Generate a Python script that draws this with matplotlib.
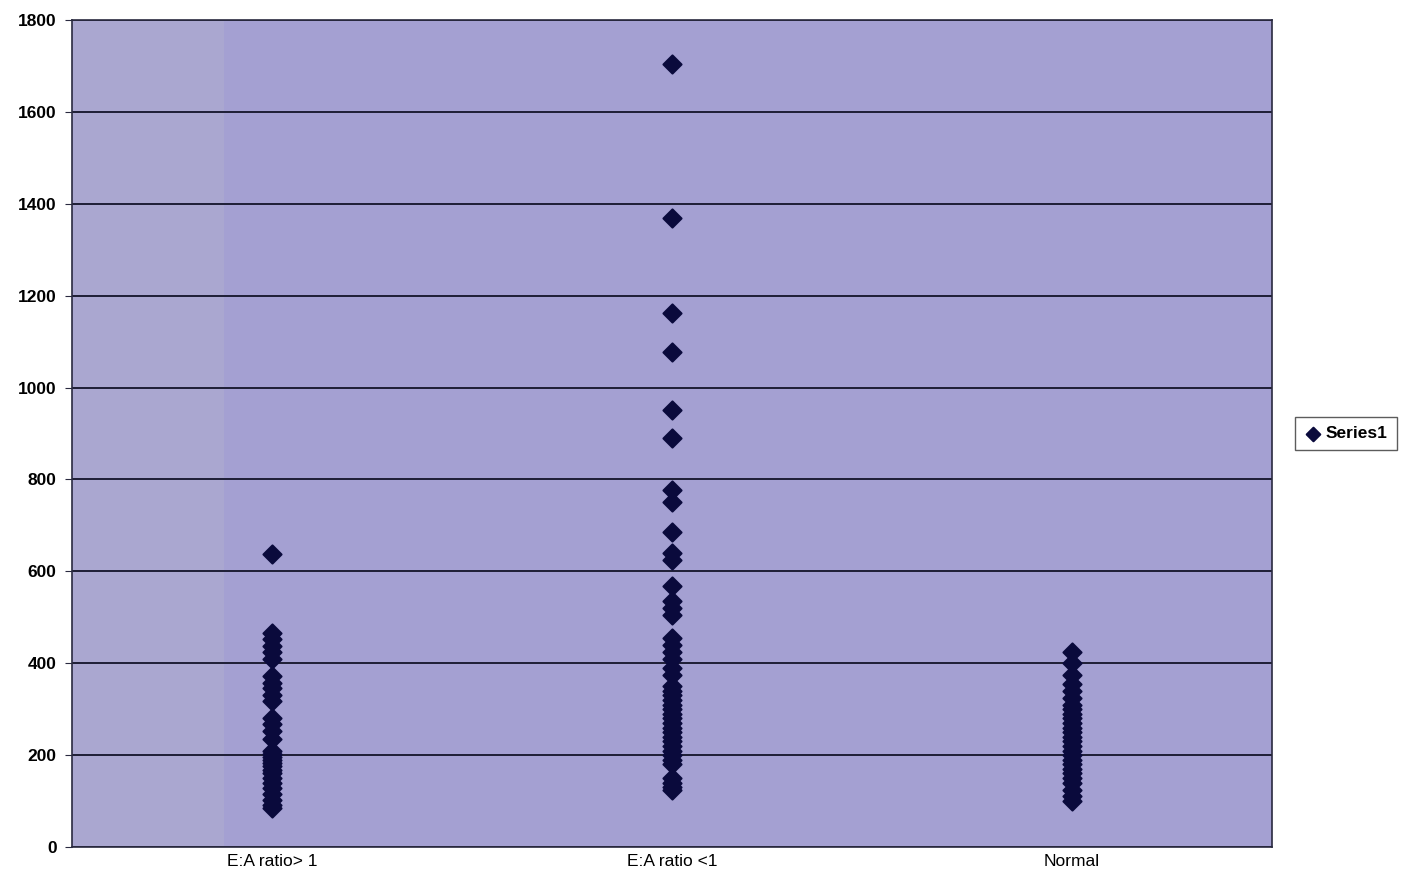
import matplotlib
matplotlib.use("Agg")
import matplotlib.pyplot as plt
import numpy as np

categories = ["E:A ratio> 1", "E:A ratio <1", "Normal"]

ea_gt1 = [637, 465, 452, 438, 425, 410, 372, 358, 345, 330, 318, 280, 268, 252, 235,
          210, 203, 196, 190, 183, 176, 168, 160, 150, 140, 128, 115, 102, 92, 85]
ea_lt1 = [1705, 1368, 1163, 1078, 952, 890, 778, 750, 685, 640, 625, 567, 535, 520, 505,
          455, 440, 425, 410, 390, 375, 350, 340, 330, 320, 310, 300, 290, 280, 270,
          260, 250, 240, 230, 220, 210, 200, 190, 180, 150, 140, 130, 125]
normal = [425, 400, 375, 355, 340, 325, 310, 300, 290, 280, 270, 260, 250, 240, 230,
          220, 210, 200, 190, 180, 170, 160, 150, 140, 125, 110, 100]

yticks = [0, 200, 400, 600, 800, 1000, 1200, 1400, 1600, 1800]

plt.rcParams['font.family'] = ['Liberation Sans', 'DejaVu Sans']

fig = plt.figure(figsize=(14.03, 8.8), dpi=100)
ax = fig.add_axes([72/1403, 33/880, 1200/1403, 827/880])

# background: lavender with slightly lighter left band
ax.set_facecolor("#a4a0d2")
ax.axvspan(0.5, 0.88, color="#aaa7d0", zorder=0, lw=0)

for i, vals in enumerate([ea_gt1, ea_lt1, normal]):
    ax.scatter([i + 1] * len(vals), vals, marker="D", s=85, color="#0a0a3c",
               zorder=3, label="Series1" if i == 0 else None,
               edgecolors="#0a0a3c", linewidths=1.5)

ax.set_xlim(0.5, 3.5)
ax.set_ylim(0, 1800)
ax.set_yticks(yticks)
ax.set_yticklabels([str(t) for t in yticks], fontsize=12.5, fontweight="bold")
ax.set_xticks([1, 2, 3])
ax.set_xticklabels(categories, fontsize=12.5)
ax.yaxis.grid(True, color="#1e1e35", lw=1.4)
ax.set_axisbelow(True)
for s in ax.spines.values():
    s.set_color("#2a2a40")
    s.set_linewidth(1.2)
ax.tick_params(axis="y", length=5, color="#2a2a40", pad=6)
ax.tick_params(axis="x", length=0, pad=5)

leg = ax.legend(loc="center left", bbox_to_anchor=(1.019, 0.5), frameon=True,
                fancybox=False, edgecolor="#333333",
                handletextpad=0.2, borderpad=0.5, markerscale=0.75,
                handlelength=1.1, borderaxespad=0.0,
                prop={'weight': 'bold', 'size': 12.5})
leg.get_frame().set_linewidth(1.0)

fig.savefig("out.png", dpi=100, facecolor="white")
